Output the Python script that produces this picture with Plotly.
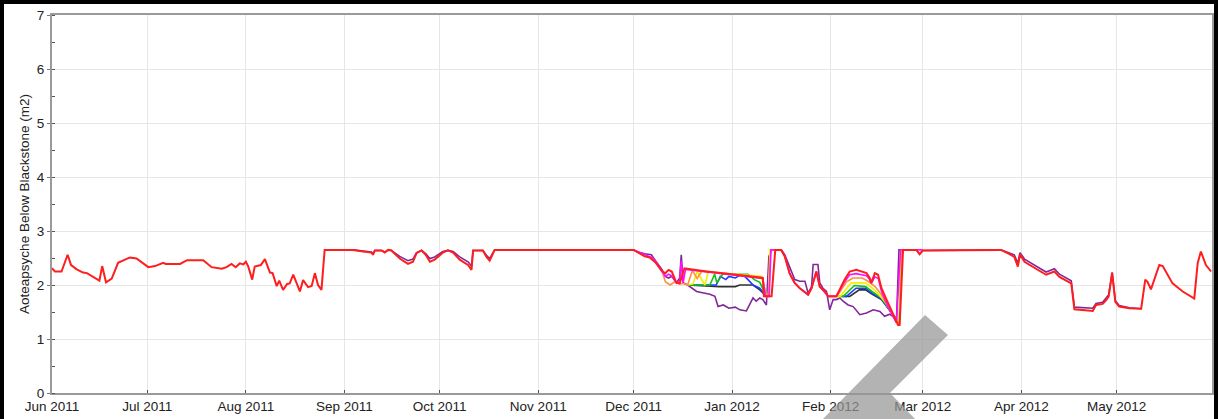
import plotly.graph_objects as go

# ---------------- data ----------------
red_dates = [
    "2011-06-01", "2011-06-01 22:00", "2011-06-04", "2011-06-05 22:00", "2011-06-07", "2011-06-08 19:00",
    "2011-06-10 19:00", "2011-06-12", "2011-06-15 22:00", "2011-06-16 19:00", "2011-06-18", "2011-06-19 19:00",
    "2011-06-21 19:00", "2011-06-25 12:00", "2011-06-27 14:00",
    "2011-07-01 07:00", "2011-07-03 10:00", "2011-07-06", "2011-07-06 19:00", "2011-07-11 07:00",
    "2011-07-13 12:00", "2011-07-18 14:00", "2011-07-21 05:00", "2011-07-24 10:00", "2011-07-25 22:00",
    "2011-07-27 12:00", "2011-07-28 19:00", "2011-07-30 02:00", "2011-07-31 05:00",
    "2011-08-01", "2011-08-01 17:00", "2011-08-03", "2011-08-03 19:00", "2011-08-05 17:00", "2011-08-07",
    "2011-08-08 14:00", "2011-08-09 10:00", "2011-08-10 17:00", "2011-08-11 12:00", "2011-08-12 17:00",
    "2011-08-14", "2011-08-14 19:00", "2011-08-15 22:00", "2011-08-17", "2011-08-18", "2011-08-19",
    "2011-08-20 14:00", "2011-08-21 17:00", "2011-08-22 17:00", "2011-08-23 17:00", "2011-08-24 19:00",
    "2011-08-25 19:00",
    "2011-09-03 17:00", "2011-09-06 22:00", "2011-09-09 12:00", "2011-09-10", "2011-09-10 14:00",
    "2011-09-12 17:00", "2011-09-13 17:00", "2011-09-14 19:00", "2011-09-15 19:00", "2011-09-18 10:00",
    "2011-09-21", "2011-09-22 14:00", "2011-09-23 17:00", "2011-09-25 07:00", "2011-09-26 14:00",
    "2011-09-27 22:00", "2011-09-29 10:00", "2011-10-02", "2011-10-03 14:00", "2011-10-05 05:00",
    "2011-10-07 07:00", "2011-10-09 22:00", "2011-10-11", "2011-10-11 12:00", "2011-10-14 14:00",
    "2011-10-15 17:00", "2011-10-16 17:00", "2011-10-17 14:00", "2011-10-18 07:00",
    "2011-12-01", "2011-12-02 22:00", "2011-12-04 12:00", "2011-12-06 02:00", "2011-12-08", "2011-12-10",
    "2011-12-11", "2011-12-12", "2011-12-13", "2011-12-14 12:00", "2011-12-15 12:00", "2011-12-17",
    "2011-12-24", "2012-01-02 07:00", "2012-01-10 16:00", "2012-01-11", "2012-01-13 10:00",
    "2012-01-14 14:00", "2012-01-16 10:00", "2012-01-17 14:00", "2012-01-19 02:00", "2012-01-20 16:00",
    "2012-01-22 07:00", "2012-01-24 22:00", "2012-01-26", "2012-01-27 12:00", "2012-01-28 14:00",
    "2012-01-30 05:00", "2012-01-31 05:00", "2012-02-02 19:00", "2012-02-05 10:00", "2012-02-07",
    "2012-02-09 02:00", "2012-02-12 07:00", "2012-02-13 07:00", "2012-02-13 19:00", "2012-02-14 22:00",
    "2012-02-15 22:00", "2012-02-17", "2012-02-18 14:00", "2012-02-20 02:00", "2012-02-22 05:00",
    "2012-02-22 17:00", "2012-02-23 19:00", "2012-02-28", "2012-02-29", "2012-03-01", "2012-03-25 14:00",
    "2012-03-28 07:00", "2012-03-29 19:00", "2012-03-30 22:00", "2012-03-31 14:00", "2012-04-02",
    "2012-04-08 19:00", "2012-04-11 10:00", "2012-04-13", "2012-04-16 17:00", "2012-04-17 17:00",
    "2012-04-23 12:00", "2012-04-24 12:00", "2012-04-26 14:00", "2012-04-27 17:00", "2012-04-28 12:00",
    "2012-04-29 14:00", "2012-04-30 14:00", "2012-05-01 19:00", "2012-05-05", "2012-05-08 17:00",
    "2012-05-10", "2012-05-10 17:00", "2012-05-11 19:00", "2012-05-14 10:00", "2012-05-15 12:00",
    "2012-05-18 14:00", "2012-05-21 19:00", "2012-05-25 10:00", "2012-05-26 12:00", "2012-05-27 12:00",
    "2012-05-29 02:00", "2012-05-30 17:00",
]
red_values = [
    2.31, 2.25, 2.25, 2.56, 2.37, 2.29,
    2.23, 2.22, 2.08, 2.35, 2.05, 2.12,
    2.41, 2.51, 2.49,
    2.33, 2.35, 2.41, 2.39, 2.39,
    2.46, 2.46, 2.33, 2.30, 2.33,
    2.39, 2.33, 2.40, 2.38,
    2.43, 2.35, 2.10, 2.34, 2.37, 2.48,
    2.23, 2.22, 1.98, 2.08, 1.91,
    2.02, 2.03, 2.19, 2.03, 1.88, 2.09,
    1.96, 1.98, 2.22, 2.00, 1.91,
    2.65,
    2.65, 2.62, 2.60, 2.56, 2.64,
    2.64, 2.60, 2.65, 2.64, 2.49,
    2.39, 2.43, 2.59, 2.64, 2.56,
    2.43, 2.47, 2.60, 2.64, 2.60,
    2.47, 2.37, 2.28, 2.64, 2.64,
    2.52, 2.45, 2.56, 2.65,
    2.65, 2.58, 2.53, 2.51, 2.41, 2.25,
    2.22, 2.28, 2.25, 2.04, 2.03, 2.31,
    2.25, 2.19, 2.13, 1.79, 1.79,
    2.65, 2.65, 2.53, 2.22, 2.04,
    1.94, 1.82, 1.94, 2.25, 1.97,
    1.88, 1.79, 1.79, 2.10, 2.25,
    2.28, 2.22, 2.13, 2.04, 2.22,
    2.19, 1.94, 1.73, 1.54, 1.26,
    1.26, 2.65, 2.65, 2.57, 2.64, 2.65,
    2.57, 2.52, 2.34, 2.57, 2.43,
    2.19, 2.25, 2.15, 2.03, 1.55,
    1.52, 1.63, 1.65, 1.72, 1.79,
    2.23, 1.69, 1.60, 1.57, 1.56,
    2.10, 2.06, 1.92, 2.37, 2.35,
    2.03, 1.88, 1.75, 2.41, 2.62,
    2.37, 2.25,
]

purple_dates = [
    "2011-08-25 19:00", "2011-09-03 17:00", "2011-09-06 22:00", "2011-09-09 12:00", "2011-09-10",
    "2011-09-10 14:00", "2011-09-12 17:00", "2011-09-13 17:00", "2011-09-14 19:00", "2011-09-15 19:00",
    "2011-09-18 10:00", "2011-09-21", "2011-09-22 14:00", "2011-09-23 17:00", "2011-09-25 07:00",
    "2011-09-26 14:00", "2011-09-27 22:00", "2011-09-29 10:00", "2011-10-02", "2011-10-03 14:00",
    "2011-10-05 05:00", "2011-10-07 07:00", "2011-10-09 22:00", "2011-10-11", "2011-10-11 12:00",
    "2011-10-14 14:00", "2011-10-15 17:00", "2011-10-16 17:00", "2011-10-17 14:00", "2011-10-18 07:00",
    "2011-12-01", "2011-12-02 10:00", "2011-12-04 12:00", "2011-12-06 14:00", "2011-12-08", "2011-12-10",
    "2011-12-11", "2011-12-12", "2011-12-13", "2011-12-14 12:00", "2011-12-15 12:00", "2011-12-16",
    "2011-12-16 14:00", "2011-12-18", "2011-12-20 20:00", "2011-12-25", "2011-12-26 14:00",
    "2011-12-27 14:00", "2011-12-29 05:00", "2011-12-31", "2012-01-02", "2012-01-03 10:00",
    "2012-01-05 12:00", "2012-01-06 12:00", "2012-01-07 14:00", "2012-01-08 14:00", "2012-01-09 17:00",
    "2012-01-10 16:00", "2012-01-11 19:00", "2012-01-12 14:00", "2012-01-13 10:00", "2012-01-16 12:00",
    "2012-01-17 14:00", "2012-01-18 14:00", "2012-01-19 17:00", "2012-01-20 17:00", "2012-01-22 07:00",
    "2012-01-23 22:00", "2012-01-24 22:00", "2012-01-26", "2012-01-26 12:00", "2012-01-28",
    "2012-01-28 14:00", "2012-01-29 14:00", "2012-01-30 17:00", "2012-01-31 17:00", "2012-02-01 19:00",
    "2012-02-02 19:00", "2012-02-03 22:00", "2012-02-04 22:00", "2012-02-06 12:00", "2012-02-08 02:00",
    "2012-02-10 05:00", "2012-02-12 07:00", "2012-02-14 10:00", "2012-02-16 12:00", "2012-02-18",
    "2012-02-19 14:00", "2012-02-21 05:00", "2012-02-21 17:00", "2012-02-22 12:00", "2012-02-28",
    "2012-02-29", "2012-03-01", "2012-03-25 14:00", "2012-03-28 07:00", "2012-03-29 19:00",
    "2012-03-30 22:00", "2012-03-31 14:00", "2012-04-02", "2012-04-08 19:00", "2012-04-11 10:00",
    "2012-04-13", "2012-04-16 17:00", "2012-04-17 17:00", "2012-04-23 12:00", "2012-04-24 12:00",
    "2012-04-26 14:00", "2012-04-27 17:00", "2012-04-28 12:00", "2012-04-29 14:00", "2012-04-30 14:00",
    "2012-05-01 19:00", "2012-05-05", "2012-05-08 17:00",
]
purple_values = [
    2.65, 2.65, 2.63, 2.61, 2.58,
    2.64, 2.64, 2.61, 2.65, 2.64,
    2.53, 2.45, 2.48, 2.60, 2.64,
    2.58, 2.49, 2.52, 2.62, 2.64,
    2.62, 2.52, 2.43, 2.35, 2.64,
    2.64, 2.55, 2.49, 2.58, 2.65,
    2.65, 2.61, 2.58, 2.56, 2.44, 2.28,
    2.16, 2.13, 2.16, 2.04, 2.13, 2.56,
    2.04, 2.00, 1.88, 1.83, 1.79,
    1.60, 1.63, 1.57, 1.59, 1.54,
    1.52, 1.63, 1.76, 1.70, 1.76,
    1.73, 1.63, 2.53, 2.65, 2.65,
    2.56, 2.41, 2.25, 2.10, 2.07,
    2.07, 1.85, 1.97, 2.38, 2.38,
    2.04, 1.94, 1.88, 1.54, 1.73,
    1.73, 1.76, 1.70, 1.63, 1.60,
    1.45, 1.48, 1.54, 1.51, 1.42,
    1.46, 1.39, 1.33, 2.65, 2.65,
    2.57, 2.64, 2.65, 2.60, 2.56,
    2.40, 2.60, 2.48, 2.24, 2.30,
    2.20, 2.08, 1.59, 1.57, 1.66,
    1.68, 1.76, 1.82, 2.23, 1.71,
    1.62, 1.58, 1.56,
]

magenta_dates = [
    "2011-12-01", "2011-12-03", "2011-12-05", "2011-12-07", "2011-12-08", "2011-12-10", "2011-12-11",
    "2011-12-12", "2011-12-13", "2011-12-14 12:00", "2011-12-15 12:00", "2011-12-16", "2011-12-16 14:00",
    "2011-12-17 08:00", "2012-01-10 16:00", "2012-01-11 12:00", "2012-01-12 16:00", "2012-01-13 05:00",
    "2012-01-16 10:00", "2012-01-17 14:00", "2012-01-19 02:00", "2012-01-20 16:00", "2012-01-22 07:00",
    "2012-01-24 22:00", "2012-01-26", "2012-01-27 12:00", "2012-01-28 14:00", "2012-01-31 05:00",
    "2012-02-02 19:00", "2012-02-05 07:00", "2012-02-07", "2012-02-09", "2012-02-12 07:00",
    "2012-02-13 07:00", "2012-02-13 19:00", "2012-02-14 22:00", "2012-02-16", "2012-02-17",
    "2012-02-19", "2012-02-21 17:00", "2012-02-23", "2012-03-01",
]
magenta_values = [
    2.65, 2.60, 2.55, 2.50, 2.43, 2.26, 2.16,
    2.20, 2.17, 2.04, 2.06, 2.45, 2.04,
    2.29, 2.12, 1.79, 1.79, 2.65,
    2.65, 2.53, 2.21, 2.04, 1.94,
    1.82, 1.94, 2.25, 1.97, 1.79,
    1.79, 2.05, 2.19, 2.21, 2.17,
    2.10, 2.03, 2.15, 2.12, 1.88,
    1.60, 1.30, 2.65, 2.65,
]

orange_dates = [
    "2011-12-10", "2011-12-11", "2011-12-12 12:00", "2011-12-14", "2011-12-15 12:00", "2011-12-16 14:00",
    "2011-12-18", "2011-12-19 12:00", "2011-12-21", "2011-12-22 12:00", "2012-01-10 12:00",
    "2012-01-11 19:00", "2012-01-12 12:00", "2012-01-13 05:00", "2012-01-14 12:00", "2012-01-20",
    "2012-01-31 05:00", "2012-02-03", "2012-02-06", "2012-02-08", "2012-02-11", "2012-02-13",
    "2012-02-15", "2012-02-17", "2012-02-19", "2012-02-21 12:00", "2012-02-22 17:00", "2012-02-23 12:00",
    "2012-02-25",
]
orange_values = [
    2.25, 2.06, 2.00, 2.06, 2.02, 2.03,
    2.00, 2.27, 2.12, 2.26, 2.14,
    1.79, 1.79, 2.65, 2.65, None,
    1.79, 1.79, 2.06, 2.13, 2.13, 2.06,
    1.97, 1.82, 1.62, 1.33, 1.30, 2.65,
    2.65,
]

yellow_dates = [
    "2011-12-18", "2011-12-19 17:00", "2011-12-21", "2011-12-23 10:00", "2011-12-24 12:00",
    "2012-01-10 05:00", "2012-01-11 19:00", "2012-01-12 10:00", "2012-01-12 22:00", "2012-01-14 12:00",
    "2012-01-20", "2012-02-02 19:00", "2012-02-04", "2012-02-07 12:00", "2012-02-12", "2012-02-15",
    "2012-02-18", "2012-02-21 12:00", "2012-02-22 14:00", "2012-02-23 07:00", "2012-02-25",
]
yellow_values = [
    2.00, 2.02, 2.25, 2.00, 2.24,
    2.16, 1.79, 1.79, 2.65, 2.65,
    None, 1.79, 1.79, 2.04, 2.04, 1.90,
    1.70, 1.36, 1.32, 2.65, 2.65,
]

green_dates = [
    "2011-12-18", "2011-12-25", "2011-12-26 12:00", "2011-12-27 05:00", "2011-12-29", "2012-01-06",
    "2012-01-08", "2012-01-09 17:00", "2012-01-11 19:00", "2012-01-20", "2012-02-03 12:00", "2012-02-05",
    "2012-02-08 12:00", "2012-02-12", "2012-02-14", "2012-02-17", "2012-02-21 14:00", "2012-02-22 14:00",
    "2012-02-23 07:00",
]
green_values = [
    2.00, 2.00, 2.20, 2.04, 2.20, 2.20,
    2.10, 2.05, 1.79, None, 1.79, 1.79,
    1.99, 1.97, 1.88, 1.76, 1.36, 1.32,
    2.65,
]

blue_dates = [
    "2011-12-18", "2011-12-27", "2011-12-28 07:00", "2011-12-30", "2011-12-31", "2012-01-02",
    "2012-01-03 10:00", "2012-01-05", "2012-01-06", "2012-01-07 14:00", "2012-01-09 17:00",
    "2012-01-11 19:00", "2012-01-20", "2012-02-04 12:00", "2012-02-06", "2012-02-09", "2012-02-12",
    "2012-02-14", "2012-02-17", "2012-02-21 12:00",
]
blue_values = [
    2.00, 2.00, 2.16, 2.10, 2.16, 2.13,
    2.18, 2.16, 2.10, 2.00, 1.94,
    1.79, None, 1.79, 1.79, 1.94, 1.94,
    1.85, 1.74, 1.38,
]

black_dates = [
    "2011-12-18", "2011-12-28", "2012-01-02", "2012-01-03 10:00", "2012-01-07 14:00", "2012-01-09 17:00",
    "2012-01-11 19:00", "2012-01-20", "2012-02-05", "2012-02-07", "2012-02-10", "2012-02-12",
    "2012-02-14", "2012-02-17", "2012-02-21 12:00",
]
black_values = [
    2.00, 1.97, 1.97, 2.00, 2.00, 1.91,
    1.79, None, 1.79, 1.79, 1.91, 1.91,
    1.83, 1.73, 1.38,
]

y_title = "Aoteapsyche Below Blackstone (m2)"
x_range = ["2011-06-01", "2012-05-31"]
y_range = [0, 7]

series = [
    ("purple", purple_dates, purple_values, "#80289A"),
    ("black", black_dates, black_values, "#303030"),
    ("blue", blue_dates, blue_values, "#1E3CFF"),
    ("green", green_dates, green_values, "#10C010"),
    ("yellow", yellow_dates, yellow_values, "#F2F000"),
    ("orange", orange_dates, orange_values, "#FF9040"),
    ("magenta", magenta_dates, magenta_values, "#FF10FF"),
    ("red", red_dates, red_values, "#FF1E1E"),
]

for name, d, v, _ in series:
    assert len(d) == len(v), (name, len(d), len(v))

# ---------------- figure ----------------
fig = go.Figure()
for name, d, v, col in series:
    fig.add_trace(go.Scatter(
        x=d, y=v, mode="lines", name=name,
        line=dict(color=col, width=2.0 if name == "red" else 1.6),
        connectgaps=False, hoverinfo="skip",
    ))

W, H = 1220, 419
L, R, T, B = 52, 8, 15, 26
pw, ph = W - L - R, H - T - B


def px(x):
    return (x - L) / pw


def py(y):
    return (H - B - y) / ph


font = "Liberation Sans, Arial, sans-serif"
fig.update_layout(
    width=W, height=H,
    margin=dict(l=L, r=R, t=T, b=B, autoexpand=False),
    paper_bgcolor="white", plot_bgcolor="white",
    showlegend=False,
    font=dict(family=font, size=13.5, color="#222222"),
)
fig.update_xaxes(
    type="date", range=x_range, tick0="2011-06-01", dtick="M1", tickformat="%b %Y",
    showgrid=True, gridcolor="#E6E6E6", gridwidth=1,
    showline=True, linecolor="#9A9A9A", linewidth=2, mirror=True,
    ticks="inside", ticklen=3, tickcolor="#555555",
    tickfont=dict(family=font, size=13.5, color="#222222"),
    zeroline=False, automargin=False,
)
fig.update_yaxes(
    range=y_range, dtick=1, tick0=0,
    showgrid=True, gridcolor="#E6E6E6", gridwidth=1,
    showline=True, linecolor="#9A9A9A", linewidth=2, mirror=True,
    ticks="outside", ticklen=3, tickcolor="#777777",
    minor=dict(dtick=0.5, ticks="inside", ticklen=3, tickcolor="#555555", showgrid=False),
    tickfont=dict(family=font, size=13.5, color="#222222"),
    title=dict(text=y_title, font=dict(family=font, size=13.5, color="#222222"), standoff=4),
    zeroline=False, automargin=False,
)

# outer black frame of the picture (left, top, right edges)
frame_lines = [((2, 0), (2, 425)), ((0, 2), (1218, 2)), ((1216, 0), (1216, 425))]
for (xa, ya), (xb, yb) in frame_lines:
    fig.add_shape(type="line", xref="paper", yref="paper",
                  x0=px(xa), y0=py(ya), x1=px(xb), y1=py(yb),
                  line=dict(color="black", width=4), layer="above")

# grey watermark stroke
pts = [(925, 315), (948, 335), (890, 393), (917, 421), (821, 421)]
path = "M " + " L ".join(f"{px(a):.5f},{py(b):.5f}" for a, b in pts) + " Z"
fig.add_shape(type="path", xref="paper", yref="paper", path=path,
              fillcolor="rgba(150,150,150,0.72)", line=dict(width=0), layer="above")

fig.write_html(
    "out.html",
    config={"displayModeBar": False},
    post_script="document.body.style.margin='0';document.body.style.overflow='hidden';",
)
